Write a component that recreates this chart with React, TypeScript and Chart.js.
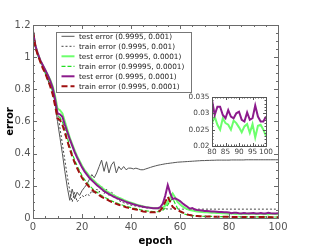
import { useEffect, useRef } from "react";
import { Chart, registerables } from "chart.js";

Chart.register(...registerables);

// ---------- data ----------
const epochs = Array.from({ length: 101 }, (_, i) => i);

const grayTest = [
  1.16, 1.07, 1.02, 0.98, 0.94, 0.9, 0.86, 0.82, 0.8, 0.71,
  0.6, 0.5, 0.4, 0.29, 0.19, 0.11, 0.18, 0.12, 0.16, 0.14,
  0.17, 0.19, 0.21, 0.24, 0.27, 0.25, 0.28, 0.32, 0.36, 0.29,
  0.35, 0.28, 0.33, 0.35, 0.28, 0.32, 0.3, 0.32, 0.3, 0.31,
  0.31, 0.305, 0.31, 0.305, 0.3, 0.3, 0.305, 0.31, 0.315, 0.32,
  0.324, 0.328, 0.331, 0.334, 0.337, 0.339, 0.341, 0.343, 0.345, 0.347,
  0.348, 0.349, 0.35, 0.351, 0.352, 0.353, 0.354, 0.355, 0.356, 0.357,
  0.357, 0.358, 0.358, 0.359, 0.359, 0.36, 0.36, 0.36, 0.36, 0.36,
  0.36, 0.361, 0.361, 0.361, 0.361, 0.361, 0.361, 0.362, 0.362, 0.362,
  0.362, 0.362, 0.362, 0.362, 0.362, 0.362, 0.362, 0.362, 0.362, 0.362, 0.362,
];

const grayTrain = [
  1.16, 1.07, 1.02, 0.98, 0.94, 0.9, 0.86, 0.83, 0.8, 0.75,
  0.66, 0.56, 0.46, 0.36, 0.26, 0.17, 0.1, 0.16, 0.1, 0.12,
  0.14, 0.13, 0.15, 0.14, 0.17, 0.15, 0.18, 0.16, 0.2, 0.15,
  0.18, 0.14, 0.16, 0.15, 0.12, 0.11, 0.1, 0.095, 0.09, 0.085,
  0.08, 0.077, 0.074, 0.071, 0.068, 0.066, 0.064, 0.062, 0.061, 0.06,
  0.059, 0.058, 0.058, 0.057, 0.057, 0.056, 0.056, 0.056, 0.056, 0.055,
  0.055, 0.055, 0.055, 0.055, 0.055, 0.055, 0.055, 0.055, 0.055, 0.055,
  0.055, 0.055, 0.055, 0.055, 0.055, 0.055, 0.055, 0.055, 0.055, 0.055,
  0.055, 0.055, 0.055, 0.055, 0.055, 0.055, 0.055, 0.055, 0.055, 0.055,
  0.055, 0.055, 0.055, 0.055, 0.055, 0.055, 0.055, 0.055, 0.055, 0.055, 0.055,
];

const greenTest = [
  1.16, 1.07, 1.02, 0.98, 0.95, 0.92, 0.89, 0.86, 0.82, 0.76,
  0.68, 0.67, 0.65, 0.6, 0.55, 0.5, 0.46, 0.42, 0.385, 0.355,
  0.325, 0.3, 0.28, 0.26, 0.245, 0.23, 0.215, 0.203, 0.19, 0.178,
  0.168, 0.158, 0.148, 0.14, 0.133, 0.126, 0.12, 0.112, 0.106, 0.1,
  0.095, 0.09, 0.085, 0.08, 0.076, 0.072, 0.069, 0.066, 0.064, 0.062,
  0.061, 0.06, 0.061, 0.066, 0.078, 0.1, 0.128, 0.153, 0.128, 0.1,
  0.085, 0.072, 0.063, 0.055, 0.05, 0.046, 0.043, 0.041, 0.039, 0.037,
  0.036, 0.035, 0.034, 0.033, 0.032, 0.031, 0.031, 0.03, 0.029, 0.028,
  0.027, 0.029, 0.0265, 0.025, 0.0285, 0.027, 0.0265, 0.025, 0.0278, 0.027,
  0.0257, 0.0242, 0.026, 0.0267, 0.024, 0.0267, 0.0226, 0.0262, 0.0265, 0.025, 0.023,
];

const greenTrain = [
  1.16, 1.06, 1.01, 0.97, 0.935, 0.905, 0.87, 0.83, 0.785, 0.72,
  0.635, 0.625, 0.6, 0.55, 0.5, 0.445, 0.4, 0.36, 0.325, 0.293,
  0.263, 0.24, 0.22, 0.203, 0.187, 0.173, 0.161, 0.15, 0.14, 0.131,
  0.123, 0.115, 0.107, 0.1, 0.094, 0.088, 0.083, 0.078, 0.073, 0.069,
  0.065, 0.061, 0.058, 0.055, 0.051, 0.047, 0.045, 0.043, 0.041, 0.04,
  0.039, 0.039, 0.041, 0.048, 0.062, 0.082, 0.105, 0.122, 0.09, 0.06,
  0.04, 0.03, 0.024, 0.02, 0.017, 0.015, 0.014, 0.013, 0.012, 0.011,
  0.0105, 0.01, 0.0098, 0.0096, 0.0094, 0.0092, 0.009, 0.0088, 0.0086, 0.0084,
  0.0082, 0.008, 0.0079, 0.0078, 0.0077, 0.0076, 0.0075, 0.0074, 0.0073, 0.0072,
  0.0071, 0.007, 0.0069, 0.0068, 0.0067, 0.0066, 0.0065, 0.0064, 0.0063, 0.0062, 0.0062,
];

const purpleTest = [
  1.16, 1.07, 1.02, 0.98, 0.95, 0.92, 0.89, 0.855, 0.81, 0.74,
  0.65, 0.645, 0.63, 0.58, 0.535, 0.49, 0.45, 0.41, 0.375, 0.345,
  0.315, 0.29, 0.27, 0.25, 0.235, 0.22, 0.205, 0.193, 0.18, 0.168,
  0.158, 0.149, 0.14, 0.132, 0.125, 0.119, 0.113, 0.106, 0.1, 0.095,
  0.09, 0.085, 0.081, 0.077, 0.073, 0.07, 0.067, 0.065, 0.063, 0.061,
  0.06, 0.061, 0.068, 0.09, 0.14, 0.205, 0.155, 0.118, 0.122, 0.115,
  0.105, 0.092, 0.08, 0.07, 0.058, 0.062, 0.053, 0.05, 0.048, 0.046,
  0.044, 0.043, 0.042, 0.041, 0.04, 0.039, 0.038, 0.037, 0.036, 0.035,
  0.034, 0.0295, 0.032, 0.032, 0.0295, 0.0285, 0.031, 0.029, 0.0285, 0.03,
  0.0305, 0.028, 0.0275, 0.0303, 0.028, 0.0285, 0.0324, 0.029, 0.0275, 0.0275, 0.029,
];

const redTrain = [
  1.16, 1.06, 1.01, 0.97, 0.93, 0.9, 0.86, 0.82, 0.77, 0.7,
  0.62, 0.61, 0.58, 0.53, 0.48, 0.43, 0.385, 0.345, 0.31, 0.28,
  0.25, 0.228, 0.21, 0.193, 0.178, 0.165, 0.153, 0.142, 0.132, 0.124,
  0.116, 0.108, 0.1, 0.094, 0.088, 0.082, 0.077, 0.072, 0.067, 0.063,
  0.059, 0.056, 0.053, 0.05, 0.045, 0.041, 0.039, 0.037, 0.036, 0.035,
  0.035, 0.038, 0.048, 0.068, 0.1, 0.132, 0.1, 0.07, 0.058, 0.05,
  0.042, 0.035, 0.028, 0.022, 0.018, 0.015, 0.013, 0.012, 0.011, 0.01,
  0.0095, 0.009, 0.0088, 0.0085, 0.0082, 0.008, 0.0078, 0.0076, 0.0074, 0.0072,
  0.007, 0.0068, 0.0066, 0.0065, 0.0064, 0.0063, 0.0062, 0.0061, 0.006, 0.006,
  0.0059, 0.0058, 0.0057, 0.0056, 0.0055, 0.0054, 0.0053, 0.0052, 0.0051, 0.005, 0.005,
];

const seriesLabels = [
  "test error (0.9995, 0.001)",
  "train error (0.9995, 0.001)",
  "test error (0.99995, 0.0001)",
  "train error (0.99995, 0.0001)",
  "test error (0.9995, 0.0001)",
  "train error (0.9995, 0.0001)",
];

const xTicks = [0, 20, 40, 60, 80, 100];
const yTicks = [0, 0.2, 0.4, 0.6, 0.8, 1, 1.2];
const insetXTicks = [80, 85, 90, 95, 100];
const insetYTicks = [0.02, 0.025, 0.03, 0.035];
const insetStart = 80;

// ---------- styles ----------
const FONT = "DejaVu Sans";
const styles = [
  { color: "#555555", width: 1, dash: [] as number[] },
  { color: "#444444", width: 1, dash: [2, 2] },
  { color: "#6cff6c", width: 2, dash: [] as number[] },
  { color: "#22dd22", width: 1.2, dash: [4, 2] },
  { color: "#8c1a8c", width: 2, dash: [] as number[] },
  { color: "#a01010", width: 2, dash: [6, 3] },
];

const frameTicks = {
  id: "frameTicks",
  afterDatasetsDraw(chart: any, _args: any, o: any) {
    const { ctx, chartArea: a, scales } = chart;
    const xs = scales.x;
    const ys = scales.y;
    ctx.save();
    ctx.strokeStyle = o.color;
    ctx.lineWidth = 1;
    ctx.setLineDash([]);
    ctx.beginPath();
    const nx = Math.round((xs.max - xs.min) / o.xMinor);
    for (let k = 0; k <= nx; k++) {
      const v = xs.min + k * o.xMinor;
      const r = v / o.xMajor;
      const major = Math.abs(r - Math.round(r)) < 1e-6;
      const len = major ? o.major : o.minor;
      const px = Math.round(xs.getPixelForValue(v)) + 0.5;
      ctx.moveTo(px, a.bottom);
      ctx.lineTo(px, a.bottom - len);
      ctx.moveTo(px, a.top);
      ctx.lineTo(px, a.top + len);
    }
    const ny = Math.round((ys.max - ys.min) / o.yMinor);
    for (let k = 0; k <= ny; k++) {
      const v = ys.min + k * o.yMinor;
      const r = (v - ys.min) / o.yMajor;
      const major = Math.abs(r - Math.round(r)) < 1e-6;
      const len = major ? o.major : o.minor;
      const py = Math.round(ys.getPixelForValue(v)) + 0.5;
      ctx.moveTo(a.left, py);
      ctx.lineTo(a.left + len, py);
      ctx.moveTo(a.right, py);
      ctx.lineTo(a.right - len, py);
    }
    ctx.stroke();
    ctx.strokeRect(
      Math.round(a.left) + 0.5,
      Math.round(a.top) + 0.5,
      Math.round(a.right - a.left),
      Math.round(a.bottom - a.top)
    );
    ctx.restore();
  },
};

const boxLegend = {
  id: "boxLegend",
  afterDraw(chart: any, _args: any, o: any) {
    const { ctx, chartArea } = chart;
    const x0 = Math.round(chartArea.left + o.dx);
    const y0 = Math.round(chartArea.top + o.dy);
    ctx.save();
    ctx.fillStyle = "#ffffff";
    ctx.fillRect(x0, y0, o.w, o.h);
    ctx.strokeStyle = o.border;
    ctx.lineWidth = 1;
    ctx.strokeRect(x0 + 0.5, y0 + 0.5, o.w, o.h);
    ctx.font = `${o.size}px "${FONT}"`;
    ctx.textBaseline = "middle";
    chart.data.datasets.forEach((ds: any, i: number) => {
      const cy = y0 + o.first + i * o.row;
      ctx.beginPath();
      ctx.setLineDash(ds.borderDash || []);
      ctx.strokeStyle = ds.borderColor;
      ctx.lineWidth = ds.borderWidth;
      ctx.moveTo(x0 + o.lineX0, cy);
      ctx.lineTo(x0 + o.lineX1, cy);
      ctx.stroke();
      ctx.setLineDash([]);
      ctx.fillStyle = o.color;
      ctx.fillText(ds.label, x0 + o.textX, cy + 0.5);
    });
    ctx.restore();
  },
};

function makeDatasets(arrs: number[][], xs: number[], labels: string[], idx: number[]) {
  return idx.map((si, j) => ({
    label: labels[si],
    data: xs.map((x, i) => ({ x, y: arrs[j][i] })),
    borderColor: styles[si].color,
    backgroundColor: styles[si].color,
    borderWidth: styles[si].width,
    borderDash: styles[si].dash,
    pointRadius: 0,
    tension: 0,
    fill: false,
    order: -si,
  }));
}

const noGrid = { display: false, drawTicks: false, tickLength: 0 };

export default function App() {
  const mainRef = useRef<HTMLCanvasElement | null>(null);
  const insetRef = useRef<HTMLCanvasElement | null>(null);

  useEffect(() => {
    document.body.style.margin = "0";
    Chart.defaults.font.family = FONT;

    const main = new Chart(mainRef.current as HTMLCanvasElement, {
      type: "line",
      data: {
        datasets: makeDatasets(
          [grayTest, grayTrain, greenTest, greenTrain, purpleTest, redTrain],
          epochs,
          seriesLabels,
          [0, 1, 2, 3, 4, 5]
        ) as any,
      },
      options: {
        animation: false,
        responsive: false,
        events: [],
        layout: { padding: { left: 0, top: 25, right: 31, bottom: 0 } },
        plugins: {
          legend: { display: false },
          tooltip: { enabled: false },
          frameTicks: { color: "#6a6a6a", xMinor: 5, xMajor: 20, yMinor: 0.05, yMajor: 0.2, major: 4, minor: 2 },
          boxLegend: {
            dx: 23, dy: 7, w: 135, h: 60, first: 4.3, row: 10,
            lineX0: 5.5, lineX1: 18.5, textX: 23, size: 7.3,
            color: "#222222", border: "#777777",
          },
        } as any,
        scales: {
          x: {
            type: "linear",
            min: 0,
            max: 100,
            grid: noGrid,
            border: { display: false },
            afterBuildTicks: (s: any) => { s.ticks = xTicks.map((v) => ({ value: v })); },
            afterFit: (s: any) => { s.height = 33; },
            ticks: { color: "#555555", font: { size: 10 }, padding: 3, maxRotation: 0, autoSkip: false, callback: (v: any) => String(v) },
            title: { display: true, text: "epoch", color: "#000000", font: { size: 10, weight: "bold" }, padding: { top: 5 } },
          },
          y: {
            type: "linear",
            min: 0,
            max: 1.2,
            grid: noGrid,
            border: { display: false },
            afterBuildTicks: (s: any) => { s.ticks = yTicks.map((v) => ({ value: v })); },
            afterFit: (s: any) => { s.width = 33; },
            ticks: { color: "#555555", font: { size: 10 }, padding: 2.5, autoSkip: false, callback: (v: any) => String(v) },
            title: { display: true, text: "error", color: "#000000", font: { size: 10, weight: "bold" }, padding: { top: 4 } },
          },
        },
      } as any,
      plugins: [frameTicks, boxLegend] as any,
    });

    const insetX = epochs.slice(insetStart);
    const inset = new Chart(insetRef.current as HTMLCanvasElement, {
      type: "line",
      data: {
        datasets: makeDatasets(
          [greenTest.slice(insetStart), purpleTest.slice(insetStart)],
          insetX,
          seriesLabels,
          [2, 4]
        ) as any,
      },
      options: {
        animation: false,
        responsive: false,
        events: [],
        layout: { padding: { left: 0, top: 7, right: 6, bottom: 0 } },
        plugins: {
          legend: { display: false },
          tooltip: { enabled: false },
          frameTicks: { color: "#555555", xMinor: 1, xMajor: 5, yMinor: 0.001, yMajor: 0.005, major: 3, minor: 1.5 },
        } as any,
        scales: {
          x: {
            type: "linear",
            min: 80,
            max: 100,
            grid: noGrid,
            border: { display: false },
            afterBuildTicks: (s: any) => { s.ticks = insetXTicks.map((v) => ({ value: v })); },
            afterFit: (s: any) => { s.height = 14; },
            ticks: { color: "#444444", font: { size: 7.3 }, padding: 2, maxRotation: 0, autoSkip: false, callback: (v: any) => String(v) },
          },
          y: {
            type: "linear",
            min: 0.02,
            max: 0.035,
            grid: noGrid,
            border: { display: false },
            afterBuildTicks: (s: any) => { s.ticks = insetYTicks.map((v) => ({ value: v })); },
            afterFit: (s: any) => { s.width = 32; },
            ticks: { color: "#444444", font: { size: 7.3 }, padding: 2.5, autoSkip: false, callback: (v: any) => String(v) },
          },
        },
      } as any,
      plugins: [frameTicks] as any,
    });

    return () => {
      main.destroy();
      inset.destroy();
    };
  }, []);

  return (
    <div style={{ position: "relative", width: 309, height: 251, background: "#ffffff" }}>
      <canvas ref={mainRef} width={309} height={251} style={{ display: "block", width: 309, height: 251 }} />
      <canvas
        ref={insetRef}
        width={95}
        height={70}
        style={{ position: "absolute", left: 180, top: 90, width: 95, height: 70, display: "block" }}
      />
    </div>
  );
}
